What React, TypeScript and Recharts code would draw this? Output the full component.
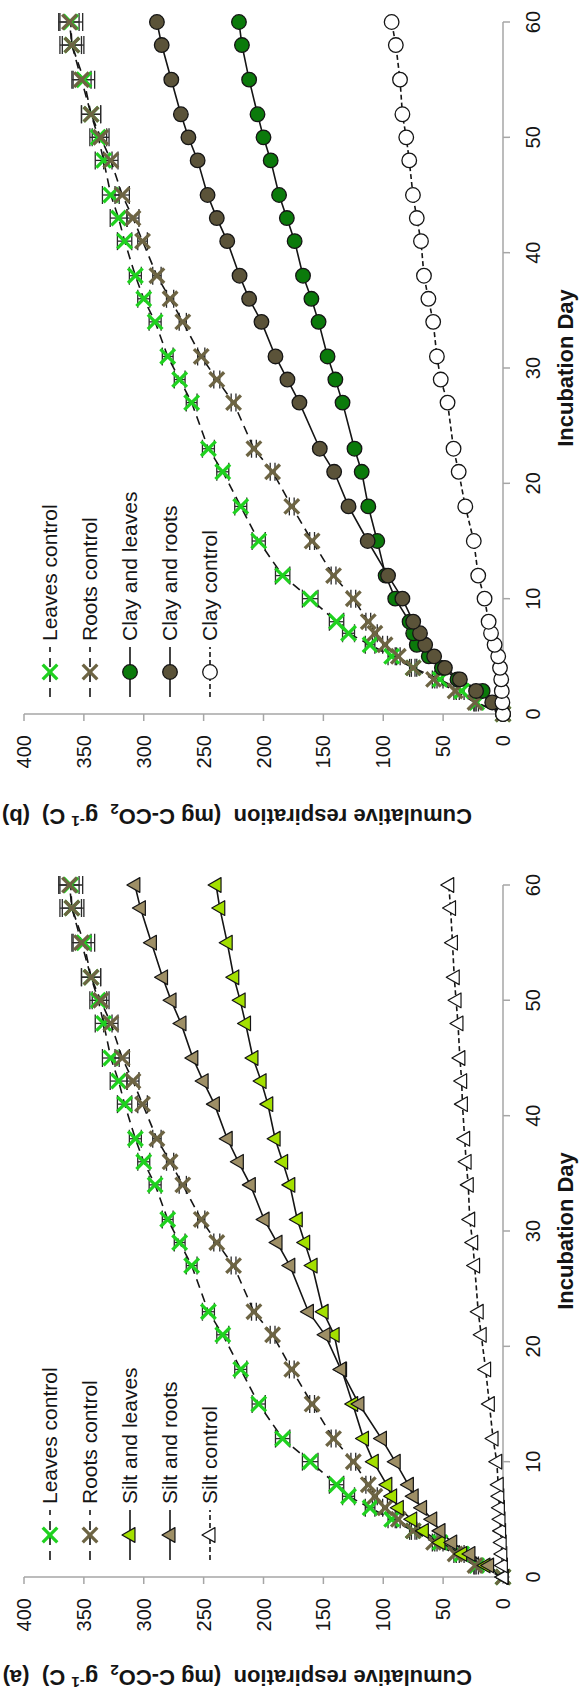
import React from "react";
import { LineChart, Line, XAxis, YAxis, ErrorBar, Legend } from "recharts";

// incubation days sampled
const days = [0, 1, 2, 3, 4, 5, 6, 7, 8, 10, 12, 15, 18, 21, 23, 27, 29, 31, 34, 36, 38, 41, 43, 45, 48, 50, 52, 55, 58, 60];
const dayTicks = [0, 10, 20, 30, 40, 50, 60];
const valueTicks = [0, 50, 100, 150, 200, 250, 300, 350, 400];

// residue-only controls (same in both panels)
const leavesControl = [0, 22, 34.5, 52.6, 75, 93, 111, 129, 139, 161, 184, 204, 219, 234, 246, 260, 270, 280, 290.5, 300, 307, 316, 321, 327.5, 333.5, 338, 344, 350, 360, 361];
const leavesControlSe = [0, 1.5, 2, 2.5, 3, 3, 4, 5, 6, 6.5, 6, 5.5, 5, 5, 5, 4.5, 4.5, 4.5, 5, 5, 5, 6, 7, 7, 7, 7, 8, 9, 10, 10];
const rootsControl = [0, 23.4, 40, 58, 75, 87.4, 98.5, 107, 112.5, 125, 141.5, 159.4, 176.4, 192.4, 208, 225, 239, 252, 267.4, 278, 289, 301, 309, 318, 327.5, 336, 344, 352, 360, 362];
const rootsControlSe = [0, 1, 1, 1, 1.5, 1.5, 2, 2, 2, 2, 2, 2, 2, 2, 2, 2, 2.5, 3, 3, 3, 3.5, 4, 5, 6, 6, 7, 8, 8, 8, 8];

// (b) clay
const clayLeaves = [0, 5, 17, 38, 51, 62, 72, 75, 78, 90, 98, 105, 112.5, 118, 124, 134, 140, 146.5, 154, 160, 167, 174, 180.5, 187, 194, 200, 205, 212, 218, 220.5];
const clayRoots = [0, 9, 22.5, 36, 48.5, 57.5, 65, 69.3, 75, 84, 96, 113, 129, 141, 153, 170, 180, 190, 201.7, 212, 220, 230.3, 239, 246.7, 255, 262.7, 269, 277, 285, 289];
const clayControl = [0, 0.5, 1, 1.5, 2.5, 4, 7, 10, 12, 15.4, 20.7, 24.4, 31.5, 37, 41.3, 46.3, 52, 55.2, 58.3, 62.3, 66, 68.5, 72, 75.2, 78.3, 80.8, 84, 86, 89.5, 93];

// (a) silt
const siltLeaves = [0, 15, 34.5, 52.6, 66.5, 76.2, 87.4, 93, 97, 108.3, 116.5, 125.5, 134.8, 141, 150.2, 159.4, 165.6, 171.8, 178, 184, 190.3, 196.4, 202, 208.8, 215, 219.5, 224.8, 230.3, 236.5, 239.6];
const siltRoots = [0, 12, 27.6, 42.8, 52.6, 59.5, 68, 75, 79, 90, 101.5, 120.3, 135.4, 148.6, 162.5, 178, 188.7, 199.5, 211, 221, 230.3, 241, 250.4, 259, 268.9, 277.2, 284.3, 293.6, 302.8, 307.4];
const siltControl = [0, 0.5, 1, 1.5, 2, 2.5, 3, 3.5, 4, 5.2, 8.3, 11.4, 14.5, 18.2, 20.7, 23.7, 25.3, 27.8, 29, 30.8, 32, 33.9, 34.5, 36, 37.6, 39.2, 40.7, 42.2, 43.8, 45.3];

const FONT = '"Liberation Sans", Arial, Helvetica, sans-serif';
const W = 837;
const H = 579;
const PANEL_A_TOP = 863;
const AXIS = "#a6a6a6";
const INK = "#151515";

type Shape = "x" | "circle" | "triangle";

interface SeriesDef {
  key: string;
  name: string;
  shape: Shape;
  color: string;
  dash?: string;
  errKey?: string;
}

function Marker({ cx, cy, shape, color }: { cx: number; cy: number; shape: Shape; color: string }) {
  if (cx == null || cy == null) return null;
  if (shape === "x") {
    const s = 7.3;
    return (
      <g>
        <line x1={cx - s} y1={cy - s} x2={cx + s} y2={cy + s} stroke={color} strokeWidth={3.3} />
        <line x1={cx - s} y1={cy + s} x2={cx + s} y2={cy - s} stroke={color} strokeWidth={3.3} />
      </g>
    );
  }
  if (shape === "circle") {
    return <circle cx={cx} cy={cy} r={7.3} fill={color} stroke={INK} strokeWidth={1.3} />;
  }
  const s = 8;
  return (
    <polygon
      points={`${cx},${cy - s} ${cx + s * 0.92},${cy + s * 0.62} ${cx - s * 0.92},${cy + s * 0.62}`}
      fill={color}
      stroke={INK}
      strokeWidth={1.2}
      strokeLinejoin="round"
    />
  );
}

function makeLegend(series: SeriesDef[]) {
  return () => (
    <svg width={330} height={210} style={{ overflow: "visible" }}>
      {series.map((s, i) => {
        const y = 20 + i * 40;
        return (
          <g key={s.key}>
            <line x1={10} x2={60} y1={y} y2={y} stroke={INK} strokeWidth={1.6} strokeDasharray={s.dash} />
            <Marker cx={35} cy={y} shape={s.shape} color={s.color} />
            <text x={66} y={y} dy="0.35em" fontSize={21} fontFamily={FONT} fill={INK}>
              {s.name}
            </text>
          </g>
        );
      })}
    </svg>
  );
}

function Panel({ soil, series }: { soil: number[][]; series: SeriesDef[] }) {
  const rows = days.map((d, i) => ({
    day: d,
    leavesControl: leavesControl[i],
    leavesControlSe: leavesControlSe[i],
    rootsControl: rootsControl[i],
    rootsControlSe: rootsControlSe[i],
    soilLeaves: soil[0][i],
    soilRoots: soil[1][i],
    soilControl: soil[2][i],
  }));

  return (
    <LineChart width={W} height={H} data={rows} margin={{ top: 24, right: 22, bottom: 0, left: 0 }}>
      <XAxis
        dataKey="day"
        type="number"
        domain={[0, 60]}
        ticks={dayTicks}
        height={76}
        stroke={AXIS}
        strokeWidth={1.5}
        tickSize={7}
        tickMargin={16}
        tick={{ fill: INK, fontSize: 20, fontFamily: FONT }}
        label={{
          content: (p: any) => {
            const vb = p.viewBox || { x: 123, width: 692 };
            return (
              <text x={vb.x + vb.width / 2} y={565} dy="0.35em" textAnchor="middle" fontSize={22} fontWeight="bold" fontFamily={FONT} fill={INK}>
                Incubation Day
              </text>
            );
          },
        }}
      />
      <YAxis
        type="number"
        domain={[0, 400]}
        ticks={valueTicks}
        width={123}
        stroke={AXIS}
        strokeWidth={1.5}
        tickSize={7}
        tickMargin={14}
        tick={{ fill: INK, fontSize: 20, fontFamily: FONT }}
      />
      <Legend
        layout="vertical"
        align="center"
        verticalAlign="middle"
        content={makeLegend(series)}
        wrapperStyle={{ left: 130, top: 30, width: 330, height: 210 }}
      />
      {series.map((s) => (
        <Line
          key={s.key}
          dataKey={s.key}
          name={s.name}
          stroke={INK}
          strokeWidth={1.6}
          strokeDasharray={s.dash}
          isAnimationActive={false}
          dot={(p: any) => <Marker key={`${s.key}-${p.index}`} cx={p.cx} cy={p.cy} shape={s.shape} color={s.color} />}
          activeDot={false}
        >
          {s.errKey ? <ErrorBar dataKey={s.errKey} width={9} strokeWidth={1.3} stroke="#2a2a2a" direction="y" /> : null}
        </Line>
      ))}
    </LineChart>
  );
}

const controlSeries: SeriesDef[] = [
  { key: "leavesControl", name: "Leaves control", shape: "x", color: "#1fd11f", dash: "9 6", errKey: "leavesControlSe" },
  { key: "rootsControl", name: "Roots control", shape: "x", color: "#6d6443", dash: "9 6", errKey: "rootsControlSe" },
];

const claySeries: SeriesDef[] = [
  ...controlSeries,
  { key: "soilLeaves", name: "Clay and leaves", shape: "circle", color: "#0b7a0b" },
  { key: "soilRoots", name: "Clay and roots", shape: "circle", color: "#5b5339" },
  { key: "soilControl", name: "Clay control", shape: "circle", color: "#ffffff", dash: "5 3" },
];

const siltSeries: SeriesDef[] = [
  ...controlSeries,
  { key: "soilLeaves", name: "Silt and leaves", shape: "triangle", color: "#a3e000" },
  { key: "soilRoots", name: "Silt and roots", shape: "triangle", color: "#9e8f66" },
  { key: "soilControl", name: "Silt control", shape: "triangle", color: "#ffffff", dash: "5 3" },
];

const rotated = (top: number): React.CSSProperties => ({
  position: "absolute",
  left: 0,
  top,
  width: W,
  height: H,
  transformOrigin: "0 0",
  transform: `translateY(${W}px) rotate(-90deg)`,
});

// value-axis title, drawn upside down as in the rotated figure
function ValueTitle({ y, tag }: { y: number; tag: string }) {
  return (
    <g fontFamily={FONT} fontWeight="bold" fill={INK}>
      <text transform={`translate(257,${y}) rotate(180)`} dy="0.35em" textAnchor="middle" fontSize={22} style={{ whiteSpace: "pre" }}>
        {"Cumulative respiration  (mg C-CO"}
        <tspan fontSize={15} dy={5}>2</tspan>
        <tspan dy={-5}>{"  g"}</tspan>
        <tspan fontSize={15} dy={-7}>-1</tspan>
        <tspan dy={7}>{" C)"}</tspan>
      </text>
      <text transform={`translate(16,${y}) rotate(180)`} dy="0.35em" textAnchor="middle" fontSize={22}>
        {tag}
      </text>
    </g>
  );
}

export default function App() {
  return (
    <div style={{ position: "absolute", left: 0, top: 0, width: 579, height: 1700, background: "#fff", overflow: "hidden" }}>
      <div style={rotated(0)}>
        <Panel soil={[clayLeaves, clayRoots, clayControl]} series={claySeries} />
      </div>
      <div style={rotated(PANEL_A_TOP)}>
        <Panel soil={[siltLeaves, siltRoots, siltControl]} series={siltSeries} />
      </div>
      <svg width={579} height={1700} style={{ position: "absolute", left: 0, top: 0, pointerEvents: "none" }}>
        <ValueTitle y={817} tag="(b)" />
        <ValueTitle y={PANEL_A_TOP + 815} tag="(a)" />
      </svg>
    </div>
  );
}
